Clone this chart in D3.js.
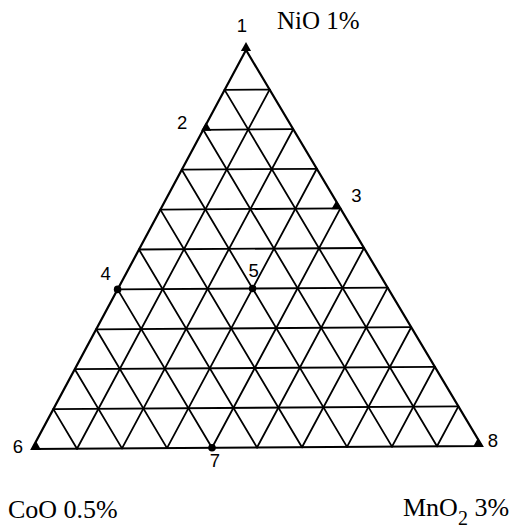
<!DOCTYPE html>
<html>
<head>
<meta charset="utf-8">
<script src="https://cdn.jsdelivr.net/npm/d3@7"></script>
<style>
  html, body { margin: 0; padding: 0; background: #fff; }
  svg { display: block; }
</style>
</head>
<body>
<svg id="chart" width="521" height="528"></svg>
<script>
// Mixture design points: fractions of NiO, CoO, MnO2 (each row sums to 1)
const pointIds = ["1", "2", "3", "4", "5", "6", "7", "8"];
const nio  = [1.0, 0.8, 0.6, 0.4, 0.4, 0.0, 0.0, 0.0];
const coo  = [0.0, 0.2, 0.0, 0.6, 0.3, 1.0, 0.6, 0.0];
const mno2 = [0.0, 0.0, 0.4, 0.0, 0.3, 0.0, 0.4, 1.0];
const markerShape = ["tri", "tri", "tri", "dot", "dot", "tri", "dot", "tri"];

// Component labels at the corners
const cornerNames = ["NiO", "CoO", "MnO"];
const cornerLevels = ["1%", "0.5%", "3%"];

// Grid divisions per side
const gridSteps = d3.range(1, 10).map(i => i / 10);

const svg = d3.select("#chart");

// Corner positions: NiO (top), CoO (bottom left), MnO2 (bottom right)
const vNiO = [246, 50];
const vCoO = [32, 449];
const vMnO2 = [482, 446];

// Barycentric scales: each component's share moves the point toward its corner
const sx = [d3.scaleLinear().domain([0, 1]).range([0, vNiO[0]]),
            d3.scaleLinear().domain([0, 1]).range([0, vCoO[0]]),
            d3.scaleLinear().domain([0, 1]).range([0, vMnO2[0]])];
const sy = [d3.scaleLinear().domain([0, 1]).range([0, vNiO[1]]),
            d3.scaleLinear().domain([0, 1]).range([0, vCoO[1]]),
            d3.scaleLinear().domain([0, 1]).range([0, vMnO2[1]])];

function project(a, b, c) {
  return [sx[0](a) + sx[1](b) + sx[2](c), sy[0](a) + sy[1](b) + sy[2](c)];
}

const line = d3.line();

const gridG = svg.append("g")
  .attr("fill", "none")
  .attr("stroke", "#000")
  .attr("stroke-width", 1.8)
  .attr("stroke-linecap", "round");

gridSteps.forEach(v => {
  // constant NiO
  gridG.append("path").attr("d", line([project(v, 1 - v, 0), project(v, 0, 1 - v)]));
  // constant CoO
  gridG.append("path").attr("d", line([project(1 - v, v, 0), project(0, v, 1 - v)]));
  // constant MnO2
  gridG.append("path").attr("d", line([project(1 - v, 0, v), project(0, 1 - v, v)]));
});

// Outer triangle
svg.append("path")
  .attr("d", line([project(1, 0, 0), project(0, 1, 0), project(0, 0, 1)]) + "Z")
  .attr("fill", "none")
  .attr("stroke", "#000")
  .attr("stroke-width", 2.2)
  .attr("stroke-linejoin", "miter");

// Design point markers
const pts = pointIds.map((id, i) => ({ id, p: project(nio[i], coo[i], mno2[i]), shape: markerShape[i] }));

svg.append("g").selectAll("circle")
  .data(pts.filter(d => d.shape === "dot"))
  .join("circle")
  .attr("cx", d => d.p[0])
  .attr("cy", d => d.p[1])
  .attr("r", 3.8)
  .attr("fill", "#000");

// Corner-filling triangle markers, nudged inside the outline
const triNudge = { "1": 0, "2": 3, "3": -4, "6": 4, "8": -4 };
svg.append("g").selectAll("path")
  .data(pts.filter(d => d.shape === "tri"))
  .join("path")
  .attr("d", d3.symbol().type(d3.symbolTriangle).size(45))
  .attr("transform", d => `translate(${d.p[0] + triNudge[d.id]},${d.p[1] - 2})`)
  .attr("fill", "#000");

// Point number labels
const labelOffset = {
  "1": [-4, -25], "2": [-21, -7], "3": [16, -13], "4": [-12, -16],
  "5": [1, -18], "6": [-14, -3], "7": [3, 13], "8": [11, -6]
};
svg.append("g")
  .attr("font-family", "Liberation Sans, Arial, sans-serif")
  .attr("font-size", 18.5)
  .attr("fill", "#000")
  .attr("text-anchor", "middle")
  .selectAll("text")
  .data(pts)
  .join("text")
  .attr("x", d => d.p[0] + labelOffset[d.id][0])
  .attr("y", d => d.p[1] + labelOffset[d.id][1])
  .attr("dy", "0.36em")
  .text(d => d.id);

// Component labels
const serif = "Liberation Serif, Times New Roman, serif";
svg.append("text")
  .attr("x", 277).attr("y", 29)
  .attr("font-family", serif).attr("font-size", 25)
  .text(cornerNames[0] + " " + cornerLevels[0]);

svg.append("text")
  .attr("x", 8).attr("y", 518)
  .attr("font-family", serif).attr("font-size", 26)
  .text(cornerNames[1] + " " + cornerLevels[1]);

const mn = svg.append("text")
  .attr("x", 403).attr("y", 516)
  .attr("font-family", serif).attr("font-size", 26);
mn.append("tspan").text(cornerNames[2]);
mn.append("tspan").attr("dy", 9).attr("font-size", 20).text("2");
mn.append("tspan").attr("dy", -9).text(" " + cornerLevels[2]);
</script>
</body>
</html>
